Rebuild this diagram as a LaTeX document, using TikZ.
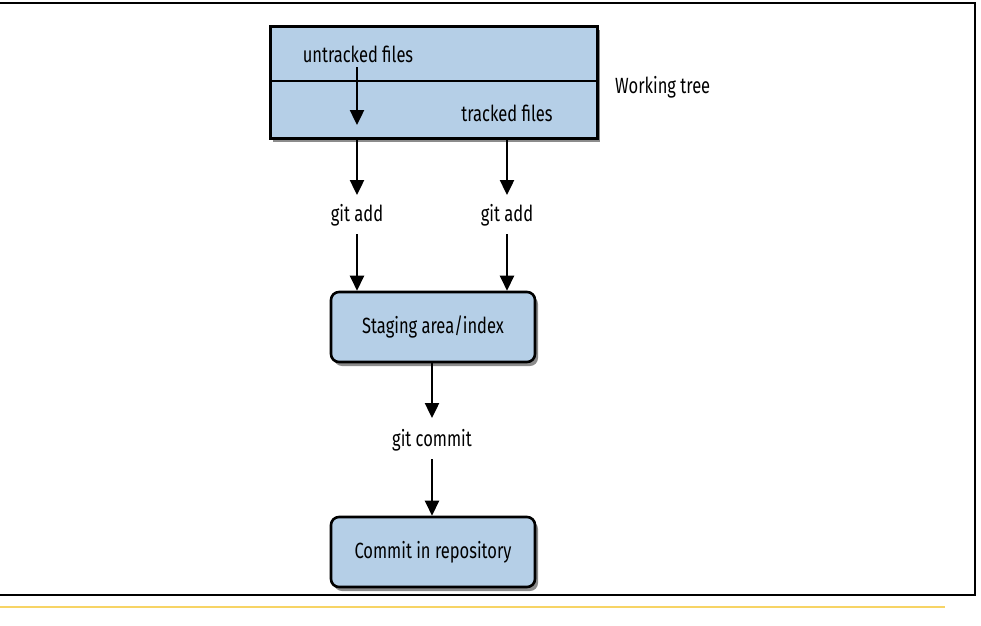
\documentclass[tikz,border=0pt]{standalone}
\usepackage{fontspec}
\setmainfont[FakeStretch=0.75]{Fira Sans}
\usetikzlibrary{arrows.meta,shadows,positioning}
\definecolor{boxblue}{HTML}{B5CFE7}
\definecolor{frameyellow}{HTML}{F7D465}
\tikzset{
  bluebox/.style={draw=black, line width=2.6pt, fill=boxblue,
    drop shadow={shadow xshift=3pt, shadow yshift=-4pt, opacity=0.45, fill=black}},
  roundbox/.style={bluebox, rounded corners=8pt, minimum width=204pt, minimum height=70pt},
  lbl/.style={font=\fontsize{22}{24}\selectfont, inner sep=0pt},
  flow/.style={line width=2.4pt, -{Triangle[width=14pt,length=15pt]}},
}
\begin{document}
\begin{tikzpicture}[x=1pt,y=-1pt]
\useasboundingbox (0,0) rectangle (981,625);
% frame
\draw[line width=2pt] (0,3) -- (975,3) -- (975,595) -- (0,595);
\draw[frameyellow, line width=2.5pt] (0,607) -- (945,607);
% working tree
\node[bluebox, minimum width=327pt, minimum height=112pt, anchor=north west] (wt) at (269,25) {};
\draw[line width=2.2pt] (wt.west |- 0,81) coordinate (dl) -- (wt.east |- 0,81) coordinate (dr);
\node[lbl] (untracked) at (358,54) {untracked files};
\node[lbl] (tracked) at (507,113) {tracked files};
\node[lbl, anchor=west] (wtlabel) at (615,87) {Working tree};
\coordinate (utip) at (357,125);
\draw[flow] (357,67) coordinate (ustart) -- (utip);
% git add
\node[lbl] (add1) at (357,215) {git add};
\node[lbl] (add2) at (507,215) {git add};
\node[roundbox] (stage) at (433,327) {\fontsize{22}{24}\selectfont Staging area/index};
\node[roundbox] (commit) at (433,552) {\fontsize{22}{24}\selectfont Commit in repository};
\node[lbl] (gcommit) at (432,440) {git commit};
\draw[flow] (357,139) coordinate (s1) -- (357,195) coordinate (t1);
\draw[flow] (507,139) coordinate (s2) -- (507,195) coordinate (t2);
\draw[flow] (add1.south) ++(0,8) -- (add1.south |- stage.north);
\draw[flow] (add2.south) ++(0,8) -- (add2.south |- stage.north);
\draw[flow] (stage.south -| gcommit) -- (432,418);
\draw[flow] (gcommit.south) ++(0,8) -- (gcommit.south |- commit.north);
\end{tikzpicture}
\end{document}
